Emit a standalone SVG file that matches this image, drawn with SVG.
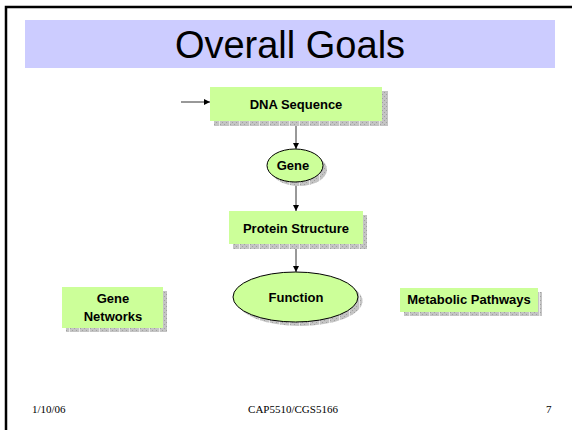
<svg xmlns="http://www.w3.org/2000/svg" width="572" height="430" viewBox="0 0 572 430">
<defs>
<pattern id="shade" width="10" height="4" patternUnits="userSpaceOnUse">
<rect width="10" height="4" fill="#c4c4c4"/>
<rect x="0" y="0" width="1" height="1" fill="#a0a0a0"/>
<rect x="2" y="2" width="1" height="1" fill="#a0a0a0"/>
<rect x="4" y="0" width="1" height="1" fill="#a0a0a0"/>
<rect x="6" y="2" width="1" height="1" fill="#a0a0a0"/>
<rect x="9" y="0" width="1" height="4" fill="#e8e8e8"/>
</pattern>
<marker id="ah" viewBox="0 0 8 8" refX="8" refY="4" markerWidth="6" markerHeight="6" orient="auto" markerUnits="userSpaceOnUse">
<path d="M0,0 L8,4 L0,8 z" fill="#000"/>
</marker>
</defs>
<style>
.box{fill:#ccff99;}
.ell{fill:#ccff99;stroke:#000;stroke-width:1;}
.sh{fill:url(#shade);}
.lbl{font-family:"Liberation Sans",Arial,sans-serif;font-weight:bold;font-size:13px;text-anchor:middle;fill:#000;}
.foot{font-family:"Liberation Serif","Times New Roman",serif;font-size:11px;fill:#000;}
.con{stroke:#333;stroke-width:1;fill:none;marker-end:url(#ah);}
</style>
<rect x="0" y="0" width="572" height="430" fill="#fff"/>
<rect x="6" y="7" width="600" height="500" fill="none" stroke="#000" stroke-width="2.5"/>
<g id="title">
<rect x="25" y="20" width="530" height="48" fill="#ccccff"/>
<text x="290" y="58" font-family="'Liberation Sans',Arial,sans-serif" font-size="38" text-anchor="middle" fill="#000">Overall Goals</text>
</g>
<g id="connectors">
<line x1="181" y1="102" x2="210" y2="102" class="con"/>
<line x1="296" y1="121" x2="296" y2="149" class="con"/>
<line x1="296" y1="182" x2="296" y2="211" class="con"/>
<line x1="296" y1="244" x2="296" y2="272" class="con"/>
</g>
<g id="dna">
<rect x="214" y="91" width="174" height="35" class="sh"/>
<rect x="210" y="87" width="172" height="34" class="box"/>
<text x="296" y="109" class="lbl" font-size="13.8">DNA Sequence</text>
</g>
<g id="gene">
<ellipse cx="299" cy="169.5" rx="28" ry="16.5" class="sh"/>
<ellipse cx="295" cy="165.5" rx="28" ry="16.5" class="ell"/>
<text x="293" y="170" class="lbl">Gene</text>
</g>
<g id="protein">
<rect x="233" y="215" width="134" height="34" class="sh"/>
<rect x="229" y="211" width="134" height="33" class="box"/>
<text x="296" y="233" class="lbl">Protein Structure</text>
</g>
<g id="function">
<ellipse cx="300" cy="301" rx="62.5" ry="25" class="sh"/>
<ellipse cx="295.5" cy="297" rx="62.5" ry="25" class="ell"/>
<text x="296" y="302" class="lbl">Function</text>
</g>
<g id="networks">
<rect x="66" y="291" width="101" height="41" class="sh"/>
<rect x="62" y="287" width="101" height="41" class="box"/>
<text x="113" y="303" class="lbl">Gene</text>
<text x="113" y="321" class="lbl">Networks</text>
</g>
<g id="metabolic">
<rect x="404" y="292" width="138" height="24" class="sh"/>
<rect x="400" y="288" width="138" height="24" class="box"/>
<text x="469" y="304" class="lbl">Metabolic Pathways</text>
</g>
<g id="footer">
<text x="32" y="413" class="foot">1/10/06</text>
<text x="293" y="413" class="foot" text-anchor="middle">CAP5510/CGS5166</text>
<text x="546" y="413" class="foot">7</text>
</g>
</svg>
